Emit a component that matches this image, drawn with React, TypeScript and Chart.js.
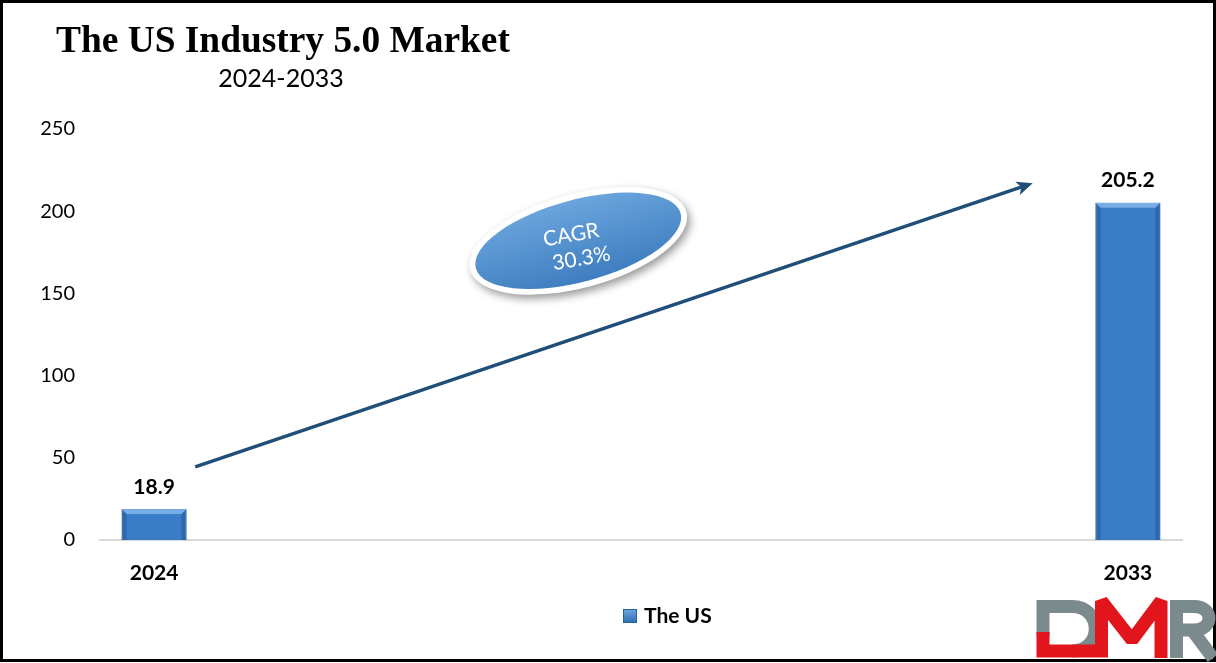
import { useEffect, useRef } from "react";
import { Chart, registerables } from "chart.js";

Chart.register(...registerables);

const categories = ["2024", "2025", "2026", "2027", "2028", "2029", "2030", "2031", "2032", "2033"];
const usValues: (number | null)[] = [18.9, null, null, null, null, null, null, null, null, 205.2];
const shownYears = ["2024", "2033"];
const yTicks = [0, 50, 100, 150, 200, 250];
const chartTitle = "The US Industry 5.0 Market";
const chartSubtitle = "2024-2033";
const seriesName = "The US";
const cagrText = ["CAGR", "30.3%"];

const FONT = "Lato, 'Open Sans', sans-serif";

const decorPlugin = {
  id: "decor",
  afterDatasetsDraw(chart: any) {
    const ctx = chart.ctx as CanvasRenderingContext2D;
    const meta = chart.getDatasetMeta(0);
    meta.data.forEach((bar: any, i: number) => {
      if (usValues[i] == null) return;
      const { x, y, base, width } = bar.getProps(["x", "y", "base", "width"], true);
      const l = x - width / 2, r = x + width / 2, t = y, b = base;
      const bv = 5;
      ctx.save();
      ctx.fillStyle = "rgba(140,190,240,0.75)";
      ctx.beginPath();
      ctx.moveTo(l, t); ctx.lineTo(r, t); ctx.lineTo(r - bv, t + bv); ctx.lineTo(l + bv, t + bv); ctx.closePath();
      ctx.fill();
      ctx.fillStyle = "rgba(30,80,140,0.45)";
      ctx.beginPath();
      ctx.moveTo(l, t); ctx.lineTo(l + bv, t + bv); ctx.lineTo(l + bv, b); ctx.lineTo(l, b); ctx.closePath();
      ctx.fill();
      ctx.beginPath();
      ctx.moveTo(r, t); ctx.lineTo(r - bv, t + bv); ctx.lineTo(r - bv, b); ctx.lineTo(r, b); ctx.closePath();
      ctx.fill();
      ctx.restore();
      ctx.save();
      ctx.font = `bold 21px ${FONT}`;
      ctx.fillStyle = "#000";
      ctx.textAlign = "center";
      ctx.textBaseline = "middle";
      ctx.fillText((usValues[i] as number).toFixed(1), x, t - 22);
      ctx.restore();
    });
  },
  afterDraw(chart: any) {
    const ctx = chart.ctx as CanvasRenderingContext2D;
    const xs = chart.scales.x;
    const ys = chart.scales.y;
    const W = chart.width, H = chart.height;

    // frame
    ctx.save();
    ctx.strokeStyle = "#000";
    ctx.lineWidth = 3;
    ctx.strokeRect(1.5, 1.5, W - 3, H - 4);
    ctx.restore();

    // title
    ctx.save();
    ctx.fillStyle = "#000";
    ctx.font = "bold 37.4px 'Liberation Serif', 'Times New Roman', serif";
    ctx.textAlign = "left";
    ctx.textBaseline = "alphabetic";
    ctx.fillText(chartTitle, 56, 52);
    ctx.font = `25px ${FONT}`;
    ctx.textAlign = "center";
    ctx.textBaseline = "middle";
    ctx.fillText(chartSubtitle, 281, 79);
    ctx.restore();

    // arrow (in data coordinates)
    const x0 = xs.getPixelForValue(0.38), y0 = ys.getPixelForValue(44.5);
    const x1 = xs.getPixelForValue(8.12), y1 = ys.getPixelForValue(217);
    const ang = Math.atan2(y1 - y0, x1 - x0);
    ctx.save();
    ctx.strokeStyle = "#1F4E79";
    ctx.fillStyle = "#1F4E79";
    ctx.lineWidth = 3.5;
    ctx.beginPath();
    ctx.moveTo(x0, y0);
    ctx.lineTo(x1 - 10 * Math.cos(ang), y1 - 10 * Math.sin(ang));
    ctx.stroke();
    ctx.translate(x1, y1);
    ctx.rotate(ang);
    ctx.beginPath();
    ctx.moveTo(0, 0);
    ctx.lineTo(-16, -7);
    ctx.lineTo(-12, 0);
    ctx.lineTo(-16, 7);
    ctx.closePath();
    ctx.fill();
    ctx.restore();

    // CAGR ellipse
    const cx = xs.getPixelForValue(3.92), cy = ys.getPixelForValue(182);
    ctx.save();
    ctx.translate(cx, cy);
    ctx.rotate((-15 * Math.PI) / 180);
    ctx.shadowColor = "rgba(0,0,0,0.4)";
    ctx.shadowBlur = 8;
    ctx.shadowOffsetX = 3;
    ctx.shadowOffsetY = 4;
    ctx.fillStyle = "#FFFFFF";
    ctx.beginPath();
    ctx.ellipse(0, 0, 112, 47, 0, 0, Math.PI * 2);
    ctx.fill();
    ctx.shadowColor = "transparent";
    const g = ctx.createLinearGradient(0, -42, 0, 42);
    g.addColorStop(0, "#6BA5DD");
    g.addColorStop(1, "#3E7DC0");
    ctx.fillStyle = g;
    ctx.beginPath();
    ctx.ellipse(0, 0, 106, 41, 0, 0, Math.PI * 2);
    ctx.fill();
    ctx.restore();
    ctx.save();
    ctx.translate(cx, cy);
    ctx.rotate((-10 * Math.PI) / 180);
    ctx.fillStyle = "#FFFFFF";
    ctx.font = `21px ${FONT}`;
    ctx.textAlign = "center";
    ctx.textBaseline = "middle";
    ctx.fillText(cagrText[0], -6, -7);
    ctx.fillText(cagrText[1], 0, 18);
    ctx.restore();

    // legend
    ctx.save();
    const lg = ctx.createLinearGradient(0, 609, 0, 623);
    lg.addColorStop(0, "#6FA8E0");
    lg.addColorStop(1, "#2E6DB4");
    ctx.fillStyle = lg;
    ctx.fillRect(623, 609, 14, 14);
    ctx.strokeStyle = "#2A5F9E";
    ctx.lineWidth = 1;
    ctx.strokeRect(623.5, 609.5, 13, 13);
    ctx.fillStyle = "#000";
    ctx.font = `bold 21px ${FONT}`;
    ctx.textAlign = "left";
    ctx.textBaseline = "middle";
    ctx.fillText(seriesName, 644, 616);
    ctx.restore();

    // DMR logo
    ctx.save();
    ctx.lineCap = "butt";
    ctx.lineJoin = "miter";
    ctx.miterLimit = 1.5;
    ctx.lineWidth = 13;
    ctx.strokeStyle = "#7B8A8C";
    // D
    ctx.beginPath();
    ctx.moveTo(1043, 636);
    ctx.lineTo(1043, 606.5);
    ctx.lineTo(1072, 606.5);
    ctx.bezierCurveTo(1103, 606.5, 1103, 651, 1072, 651);
    ctx.stroke();
    // R
    ctx.beginPath();
    ctx.moveTo(1176.5, 658);
    ctx.lineTo(1176.5, 606.5);
    ctx.lineTo(1194, 606.5);
    ctx.bezierCurveTo(1214, 606.5, 1214, 630, 1194, 630);
    ctx.lineTo(1180, 630);
    ctx.stroke();
    ctx.beginPath();
    ctx.moveTo(1192, 630);
    ctx.lineTo(1213, 658);
    ctx.stroke();
    // M red
    ctx.strokeStyle = "#E3151C";
    ctx.beginPath();
    ctx.moveTo(1043, 632);
    ctx.lineTo(1043, 651);
    ctx.lineTo(1101.5, 651);
    ctx.lineTo(1101.5, 601);
    ctx.lineTo(1132, 640);
    ctx.lineTo(1161, 601);
    ctx.lineTo(1161, 658);
    ctx.stroke();
    ctx.restore();
  },
};

export default function App() {
  const ref = useRef<HTMLCanvasElement | null>(null);
  useEffect(() => {
    if (!ref.current) return;
    const chart = new Chart(ref.current, {
      type: "bar",
      data: {
        labels: categories,
        datasets: [
          {
            label: seriesName,
            data: usValues as any,
            backgroundColor: "#3A7CC6",
            borderColor: "#2D67A6",
            borderWidth: 1,
            barPercentage: 0.6,
            categoryPercentage: 1,
          },
        ],
      },
      options: {
        responsive: false,
        animation: false,
        devicePixelRatio: 1,
        layout: { padding: { top: 129, right: 34, left: 0, bottom: 0 } },
        plugins: {
          legend: { display: false },
          title: { display: false },
          tooltip: { enabled: false },
        },
        scales: {
          x: {
            grid: { display: false, drawTicks: false },
            border: { display: true, color: "#D9D9D9", width: 2 },
            ticks: {
              autoSkip: false,
              maxRotation: 0,
              padding: 21,
              color: "#000",
              font: { family: FONT, size: 21, weight: "bold" },
              callback: (_v: any, i: number) => (shownYears.includes(categories[i]) ? categories[i] : ""),
            },
            afterFit: (s: any) => {
              s.height = 123;
            },
          },
          y: {
            min: yTicks[0],
            max: yTicks[yTicks.length - 1],
            grid: { display: false, drawTicks: false },
            border: { display: false },
            afterBuildTicks: (s: any) => {
              s.ticks = yTicks.map((v) => ({ value: v }));
            },
            ticks: {
              padding: 25,
              color: "#000",
              font: { family: FONT, size: 20 },
            },
            afterFit: (s: any) => {
              s.width = 100;
            },
          },
        },
      },
      plugins: [decorPlugin],
    });
    return () => chart.destroy();
  }, []);
  return (
    <div style={{ position: "absolute", left: 0, top: 0, width: 1216, height: 663, background: "#fff" }}>
      <canvas ref={ref} width={1216} height={663} style={{ display: "block" }} />
    </div>
  );
}
